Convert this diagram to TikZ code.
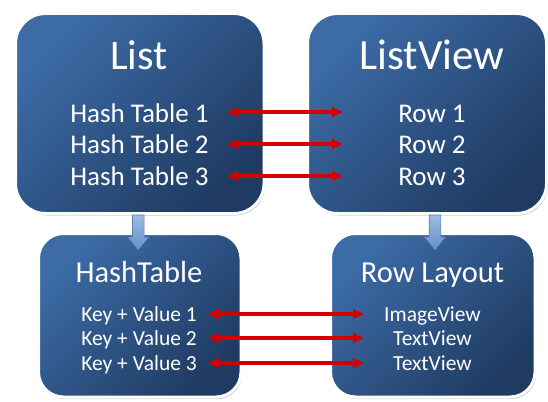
\documentclass[tikz,border=0pt]{standalone}
\usepackage{fontspec}
\setmainfont{Carlito}
\usetikzlibrary{arrows.meta,shadows,calc}
\definecolor{boxA}{HTML}{3C6BA6}
\definecolor{boxB}{HTML}{1F3B62}
\definecolor{arrRed}{HTML}{D40000}
\definecolor{blkA}{HTML}{9BBCE3}
\definecolor{blkB}{HTML}{6690C6}
\definecolor{blkLine}{HTML}{5A80B4}
\begin{document}
\begin{tikzpicture}[x=1pt,y=-1pt,
  panel/.style={draw=white, line width=3pt, rounded corners=#1,
    top color=boxA, bottom color=boxB, shading angle=45,
    drop shadow={fill=black, opacity=0.22, shadow xshift=1.2pt, shadow yshift=-2pt},
    inner sep=0pt, outer sep=0pt},
  lbl/.style={text=white, anchor=base, inner sep=0pt},
  redarr/.style={draw=arrRed, line width=3.2pt,
    {Triangle[length=11pt,width=9.5pt]}-{Triangle[length=11pt,width=9.5pt]}},
  blk/.style={top color=blkA, bottom color=blkB, draw=blkLine, line width=0.6pt}]
\useasboundingbox (0,0) rectangle (548,401);

% panels
\node[panel=30pt, minimum width=248.5pt, minimum height=200pt] (list) at (139.75,113.5) {};
\node[panel=30pt, minimum width=239pt, minimum height=200pt] (lview) at (427,113.5) {};
\node[panel=25pt, minimum width=202.5pt, minimum height=163.5pt] (hash) at (139.75,315.25) {};
\node[panel=25pt, minimum width=204.5pt, minimum height=163.5pt] (rlay) at (432.75,315.25) {};

% titles
\node[lbl, font=\fontsize{42}{44}\selectfont] (tlist) at (139,70) {List};
\node[lbl, font=\fontsize{43}{45}\selectfont] (tlview) at (432,70) {ListView};
\node[lbl, font=\fontsize{30.5}{32}\selectfont] (thash) at (139,282) {HashTable};
\node[lbl, font=\fontsize{30.5}{32}\selectfont] (trlay) at (432.5,282) {Row Layout};

% items top
\node[lbl, font=\fontsize{27}{29}\selectfont] (h1) at (139.5,122) {Hash Table 1};
\node[lbl, font=\fontsize{27}{29}\selectfont] (h2) at (139.5,153.5) {Hash Table 2};
\node[lbl, font=\fontsize{27}{29}\selectfont] (h3) at (139.5,185) {Hash Table 3};
\node[lbl, font=\fontsize{27}{29}\selectfont] (r1) at (432,122) {Row 1};
\node[lbl, font=\fontsize{27}{29}\selectfont] (r2) at (432,153.5) {Row 2};
\node[lbl, font=\fontsize{27}{29}\selectfont] (r3) at (432,185) {Row 3};

% items bottom
\node[lbl, font=\fontsize{21.5}{23}\selectfont] (k1) at (139,321.5) {Key + Value 1};
\node[lbl, font=\fontsize{21.5}{23}\selectfont] (k2) at (139,345.5) {Key + Value 2};
\node[lbl, font=\fontsize{21.5}{23}\selectfont] (k3) at (139,370) {Key + Value 3};
\node[lbl, font=\fontsize{21.5}{23}\selectfont] (v1) at (432.5,321.5) {ImageView};
\node[lbl, font=\fontsize{21.5}{23}\selectfont] (v2) at (432.5,345.5) {TextView};
\node[lbl, font=\fontsize{21.5}{23}\selectfont] (v3) at (432.5,370) {TextView};

% red arrow end points
\coordinate (a1l) at (227,112); \coordinate (a1r) at (343,112);
\coordinate (a2l) at (227,144); \coordinate (a2r) at (343,144);
\coordinate (a3l) at (227,176); \coordinate (a3r) at (343,176);
\coordinate (b1l) at (208,314); \coordinate (b1r) at (364,314);
\coordinate (b2l) at (208,338); \coordinate (b2r) at (364,338);
\coordinate (b3l) at (208,363); \coordinate (b3r) at (364,363);
\begin{scope}
\draw[redarr] (b1l) -- (b1r);
\draw[redarr] (b2l) -- (b2r);
\draw[redarr] (b3l) -- (b3r);
\draw[redarr] (a1l) -- (a1r);
\draw[redarr] (a2l) -- (a2r);
\draw[redarr] (a3l) -- (a3r);
\end{scope}

% block arrows
\coordinate (d1) at ($(list.south)+(-1.5,1.5)$);
\coordinate (d2) at ($(lview.south)+(8,1.5)$);
\path[blk] (d1) ++(-5.8,0) -- ++(11.6,0) -- ++(0,22) -- ++(4.7,0) -- ++(-10.5,13) -- ++(-10.5,-13) -- ++(4.7,0) -- cycle;
\path[blk] (d2) ++(-5.8,0) -- ++(11.6,0) -- ++(0,22) -- ++(4.7,0) -- ++(-10.5,13) -- ++(-10.5,-13) -- ++(4.7,0) -- cycle;
\end{tikzpicture}
\end{document}
